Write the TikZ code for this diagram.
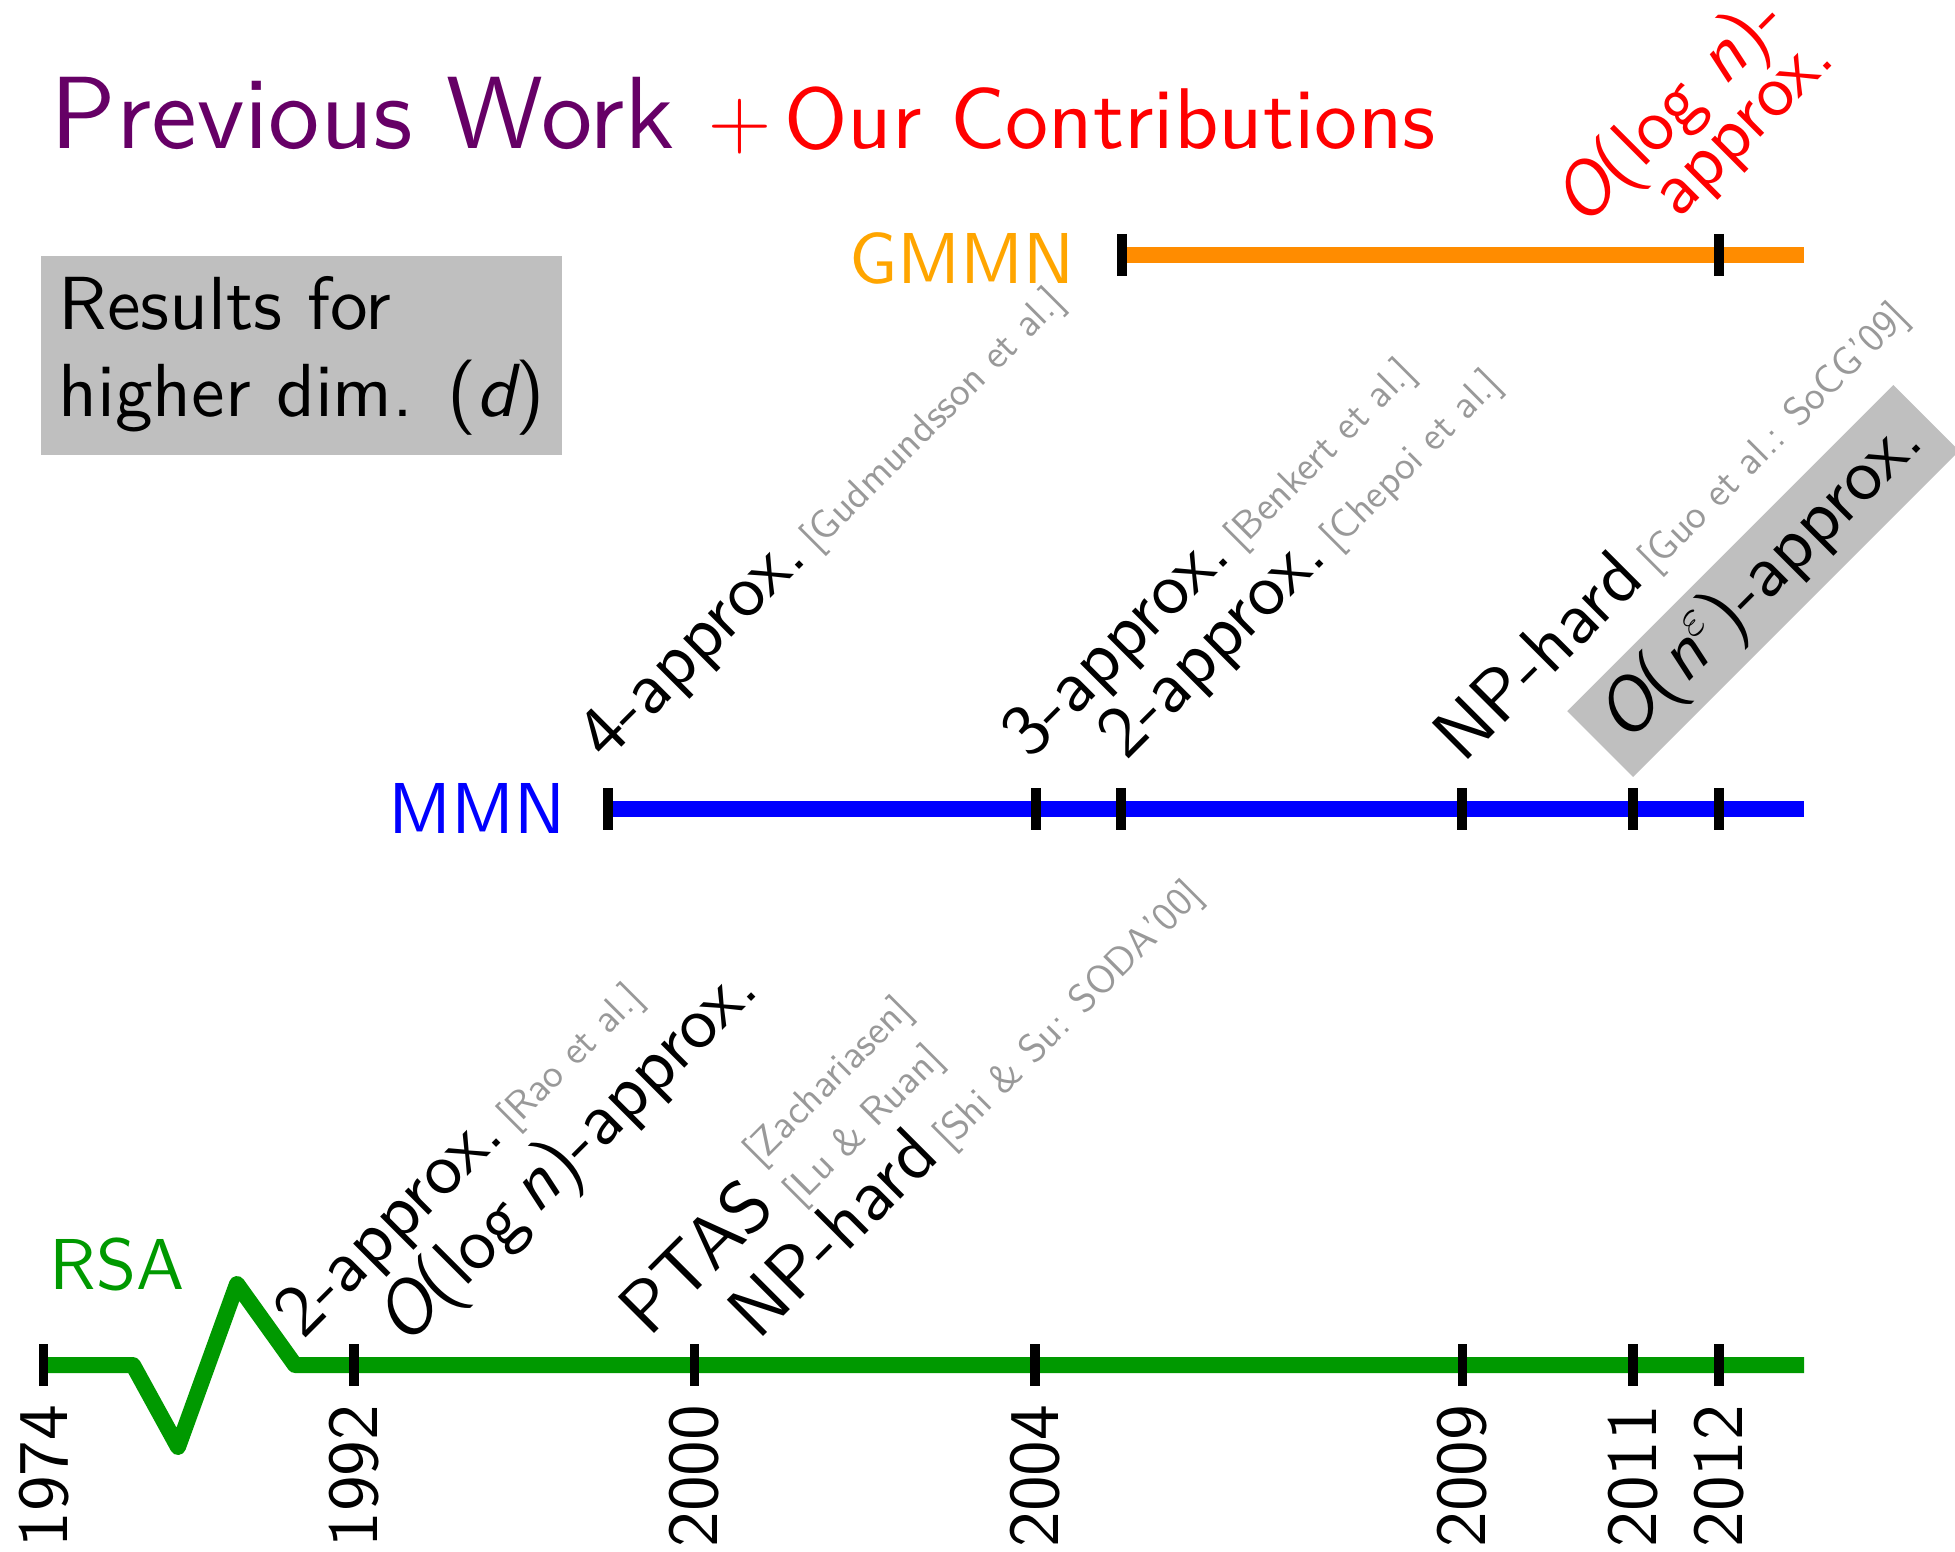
\documentclass[tikz,border=0pt]{standalone}
\usepackage{fontspec}
\setsansfont{lmsans10}[Extension=.otf, UprightFont=*-regular, ItalicFont=*-oblique, BoldFont=*-bold]

\definecolor{prevpurple}{RGB}{102,0,102}
\definecolor{rsagreen}{RGB}{0,153,0}
\definecolor{gmmnorange}{RGB}{255,140,0}
\definecolor{gmmnlabel}{RGB}{255,165,0}
\definecolor{refgray}{RGB}{153,153,153}
\definecolor{boxgray}{RGB}{191,191,191}

% small grey citation after a result
\newcommand{\refnote}[1]{\hspace{3pt}{\fontsize{11.3}{16}\selectfont\color{refgray}#1}}

\tikzset{
  big/.style={font=\sffamily\fontsize{20.5}{24.6}\selectfont},
  result/.style={font=\sffamily\fontsize{21}{25}\selectfont, rotate=45, anchor=base west, inner sep=0pt},
  yearlabel/.style={font=\sffamily\fontsize{20.3}{24}\selectfont, rotate=90, anchor=east, inner sep=0pt},
  timeline/.style={line width=4.55pt, line join=round},
  yeartick/.style={black, line width=2.6pt},
  infobox/.style={font=\sffamily\fontsize{21.4}{24.8}\selectfont, fill=boxgray,
    align=left, inner sep=0pt, minimum width=5.21cm, minimum height=1.99cm},
}

\begin{document}
\begin{tikzpicture}[x=0.01cm, y=-0.01cm]
\useasboundingbox (0,0) rectangle (1955,1552);

\node[anchor=base west, inner sep=0pt, font=\sffamily] (title) at (50,149)
  {\fontsize{29.2}{35}\selectfont\textcolor{prevpurple}{Previous Work}
   \fontsize{24.5}{30}\selectfont\textcolor{red}{$+$\hspace{3.5pt}Our Contributions}};

\node[infobox] (dims) at (301.5,355.5) {Results for\\higher dim. ({\itshape d})};

% time lines
\coordinate (gmmn0) at (1122,255);
\coordinate (gmmn1) at (1804,255);
\coordinate (mmn0) at (608,809);
\coordinate (mmn1) at (1804,809);
\coordinate (rsa0) at (43.6,1365);
\coordinate (rsa1) at (1804,1365);

\draw[timeline, gmmnorange] (gmmn0) -- (gmmn1);
\draw[timeline, blue] (mmn0) -- (mmn1);
\draw[timeline, rsagreen] (rsa0) -- (133,1365) -- (178,1447) -- (237,1284) -- (295,1365) -- (rsa1);

\foreach \t in {1122,1719}
  \draw[yeartick] (\t,234) -- (\t,276);
\foreach \t in {608,1036,1121,1462,1633,1719}
  \draw[yeartick] (\t,788) -- (\t,830);
\foreach \t/\yr in {43.6/1974,354/1992,694.5/2000,1035/2004,1462.5/2009,1633/2011,1719/2012} {
  \draw[yeartick] (\t,1344) -- (\t,1386);
  \node[yearlabel] (y\yr) at (\t,1404) {\yr};
}

\node[big, text=gmmnlabel, anchor=base east, inner sep=0pt] (gmmn) at (1075,284) {GMMN};
\node[big, text=blue, anchor=base east, inner sep=0pt] (mmn) at (566,833) {MMN};
\node[big, text=rsagreen, anchor=base west, inner sep=0pt] (rsa) at (49,1289) {RSA};

% RSA results
\node[result] (rsa2) at (303,1341) {2-approx.\refnote{[Rao et al.]}};
\node[result] (rsalog) at (405,1348) {{\itshape O}(log\,{\itshape n})-approx.};
\node[result] (rsaptas) at (649,1339) {PTAS\refnote{\hspace{2pt}\raisebox{-3.5pt}{\begin{tabular}[b]{@{}l@{}}[Zachariasen]\\{}[Lu \& Ruan]\end{tabular}}}};
\node[result] (rsanp) at (758,1342) {NP-hard\refnote{[Shi \& Su: SODA'00]}};

% MMN results
\node[result] (mmn4) at (606,763) {4-approx.\refnote{[Gudmundsson et al.]}};
\node[result] (mmn3) at (1030,761) {3-approx.\refnote{[Benkert et al.]}};
\node[result] (mmn2) at (1126,762) {2-approx.\refnote{[Chepoi et al.]}};
\node[result] (mmnnp) at (1463,765) {NP-hard\refnote{[Guo et al.: SoCG'09]}};
\node[result, anchor=south west, fill=boxgray, minimum width=4.61cm, minimum height=0.93cm]
  (mmneps) at (1633,778) {{\itshape O}({\itshape n}$^{\varepsilon}$)-approx.};

% GMMN result
\node[result, text=red] (gmmnlog) at (1583,229) {{\itshape O}(log {\itshape n})-};
\node[result, text=red] (gmmnapx) at (1678,220) {approx.};

\end{tikzpicture}
\end{document}
